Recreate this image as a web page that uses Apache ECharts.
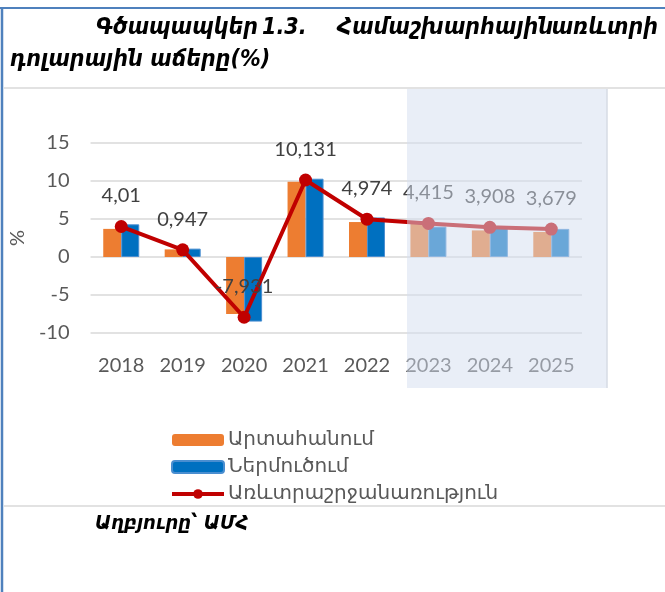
<!DOCTYPE html>
<html>
<head>
<meta charset="utf-8">
<script src="https://cdn.jsdelivr.net/npm/echarts@6/dist/echarts.min.js"></script>
<style>
    html, body { margin: 0; padding: 0; background: #fff; }
    #chart { width: 665px; height: 592px; }
</style>
</head>
<body>
<div id="chart"></div>
<script>
// data
const years = ['2018', '2019', '2020', '2021', '2022', '2023', '2024', '2025'];
const exportGrowth = [3.7, 1.0, -7.5, 9.9, 4.6, 4.6, 3.5, 3.3];
const importGrowth = [4.3, 1.1, -8.5, 10.3, 5.2, 4.0, 3.9, 3.7];
const tradeGrowth = [4.01, 0.947, -7.931, 10.131, 4.974, 4.415, 3.908, 3.679];
const seriesNames = ['Արտահանում', 'Ներմուծում', 'Առևտրաշրջանառություն'];
const titleWords = ['Գծապապկեր', '1.3.', 'Համաշխարհային', 'առևտրի'];
const titleLine2 = 'դոլարային աճերը(%)';
const sourceText = 'Աղբյուրը՝ ԱՄՀ';

const chart = echarts.init(document.getElementById('chart'));

const numFont = 'Lato, "DejaVu Sans", sans-serif';
const armFont = '"DejaVu Sans", sans-serif';
const titleFont = 'italic bold 23px "DejaVu Sans Condensed", "DejaVu Sans", sans-serif';
// justified first title line: left edge of each word, the last one right-aligned
const titleX = [96, 262, 337, 658];
const titleAlign = ['left', 'left', 'left', 'right'];

let graphics = [
    // page frame
    { type: 'line', shape: { x1: 0, y1: 8, x2: 665, y2: 8 }, style: { stroke: '#4F81BD', lineWidth: 2 }, z: 1 },
    { type: 'line', shape: { x1: 2, y1: 8, x2: 2, y2: 592 }, style: { stroke: '#4F81BD', lineWidth: 2.5 }, z: 1 },
    // chart box
    { type: 'line', shape: { x1: 4, y1: 88, x2: 665, y2: 88 }, style: { stroke: '#D9D9D9', lineWidth: 1.5 }, z: 1 },
    { type: 'line', shape: { x1: 4, y1: 506, x2: 665, y2: 506 }, style: { stroke: '#D9D9D9', lineWidth: 1.5 }, z: 1 },
    // forecast shading, drawn over the series
    { type: 'rect', shape: { x: 407, y: 89, width: 200, height: 299 }, style: { fill: 'rgba(211,221,239,0.5)' }, z: 100 },
    { type: 'line', shape: { x1: 607, y1: 89, x2: 607, y2: 388 }, style: { stroke: '#D6DBE4', lineWidth: 1.5 }, z: 100 },
    {
        type: 'text', x: 10, y: 60,
        style: { text: titleLine2, font: titleFont, fill: '#000', textVerticalAlign: 'middle' }
    },
    {
        type: 'text', x: 95, y: 524,
        style: { text: sourceText, font: 'italic bold 20px "DejaVu Sans Condensed", "DejaVu Sans", sans-serif', fill: '#000', textVerticalAlign: 'middle' }
    }
];
titleWords.forEach(function (w, i) {
    graphics.push({
        type: 'text', x: titleX[i], y: 28,
        style: { text: w, font: titleFont, fill: '#000', textAlign: titleAlign[i], textVerticalAlign: 'middle' }
    });
});

const option = {
    backgroundColor: '#fff',
    animation: false,
    graphic: graphics,
    legend: {
        orient: 'vertical',
        left: 165,
        top: 425,
        itemWidth: 52,
        itemHeight: 12,
        itemGap: 7,
        data: [
            { name: seriesNames[0] },
            { name: seriesNames[1] },
            { name: seriesNames[2], lineStyle: { width: 4 } }
        ],
        textStyle: { color: '#595959', fontSize: 20, fontFamily: armFont, padding: [0, 0, 0, -1] }
    },
    grid: {
        left: 83,
        right: 83,
        top: 143,
        bottom: 259
    },
    xAxis: {
        type: 'category',
        data: years,
        axisLine: { show: false, onZero: false },
        axisTick: { show: false },
        axisLabel: { color: '#595959', fontSize: 20, fontFamily: numFont, margin: 23 }
    },
    yAxis: {
        type: 'value',
        min: -10,
        max: 15,
        interval: 5,
        name: '%',
        nameLocation: 'middle',
        nameGap: 55,
        nameTextStyle: { color: '#595959', fontSize: 20, fontFamily: numFont },
        axisLabel: { color: '#595959', fontSize: 20, fontFamily: numFont, margin: 21 },
        splitLine: { lineStyle: { color: '#D9D9D9', width: 1.5 } }
    },
    series: [
        {
            name: seriesNames[0],
            type: 'bar',
            data: exportGrowth,
            barWidth: 18,
            barGap: '0%',
            itemStyle: { color: '#ED7D31' }
        },
        {
            name: seriesNames[1],
            type: 'bar',
            data: importGrowth,
            barWidth: 18,
            itemStyle: { color: '#0070C0', borderColor: '#4A8ED0', borderWidth: 1 }
        },
        {
            name: seriesNames[2],
            type: 'line',
            data: tradeGrowth,
            symbol: 'circle',
            symbolSize: 13,
            lineStyle: { color: '#C00000', width: 4 },
            itemStyle: { color: '#C00000' },
            label: {
                show: true,
                position: 'top',
                distance: 14,
                color: '#404040',
                fontSize: 20,
                fontFamily: numFont,
                formatter: function (p) {
                    return String(p.value).replace('.', ',');
                }
            }
        }
    ]
};

chart.setOption(option);
</script>
</body>
</html>
